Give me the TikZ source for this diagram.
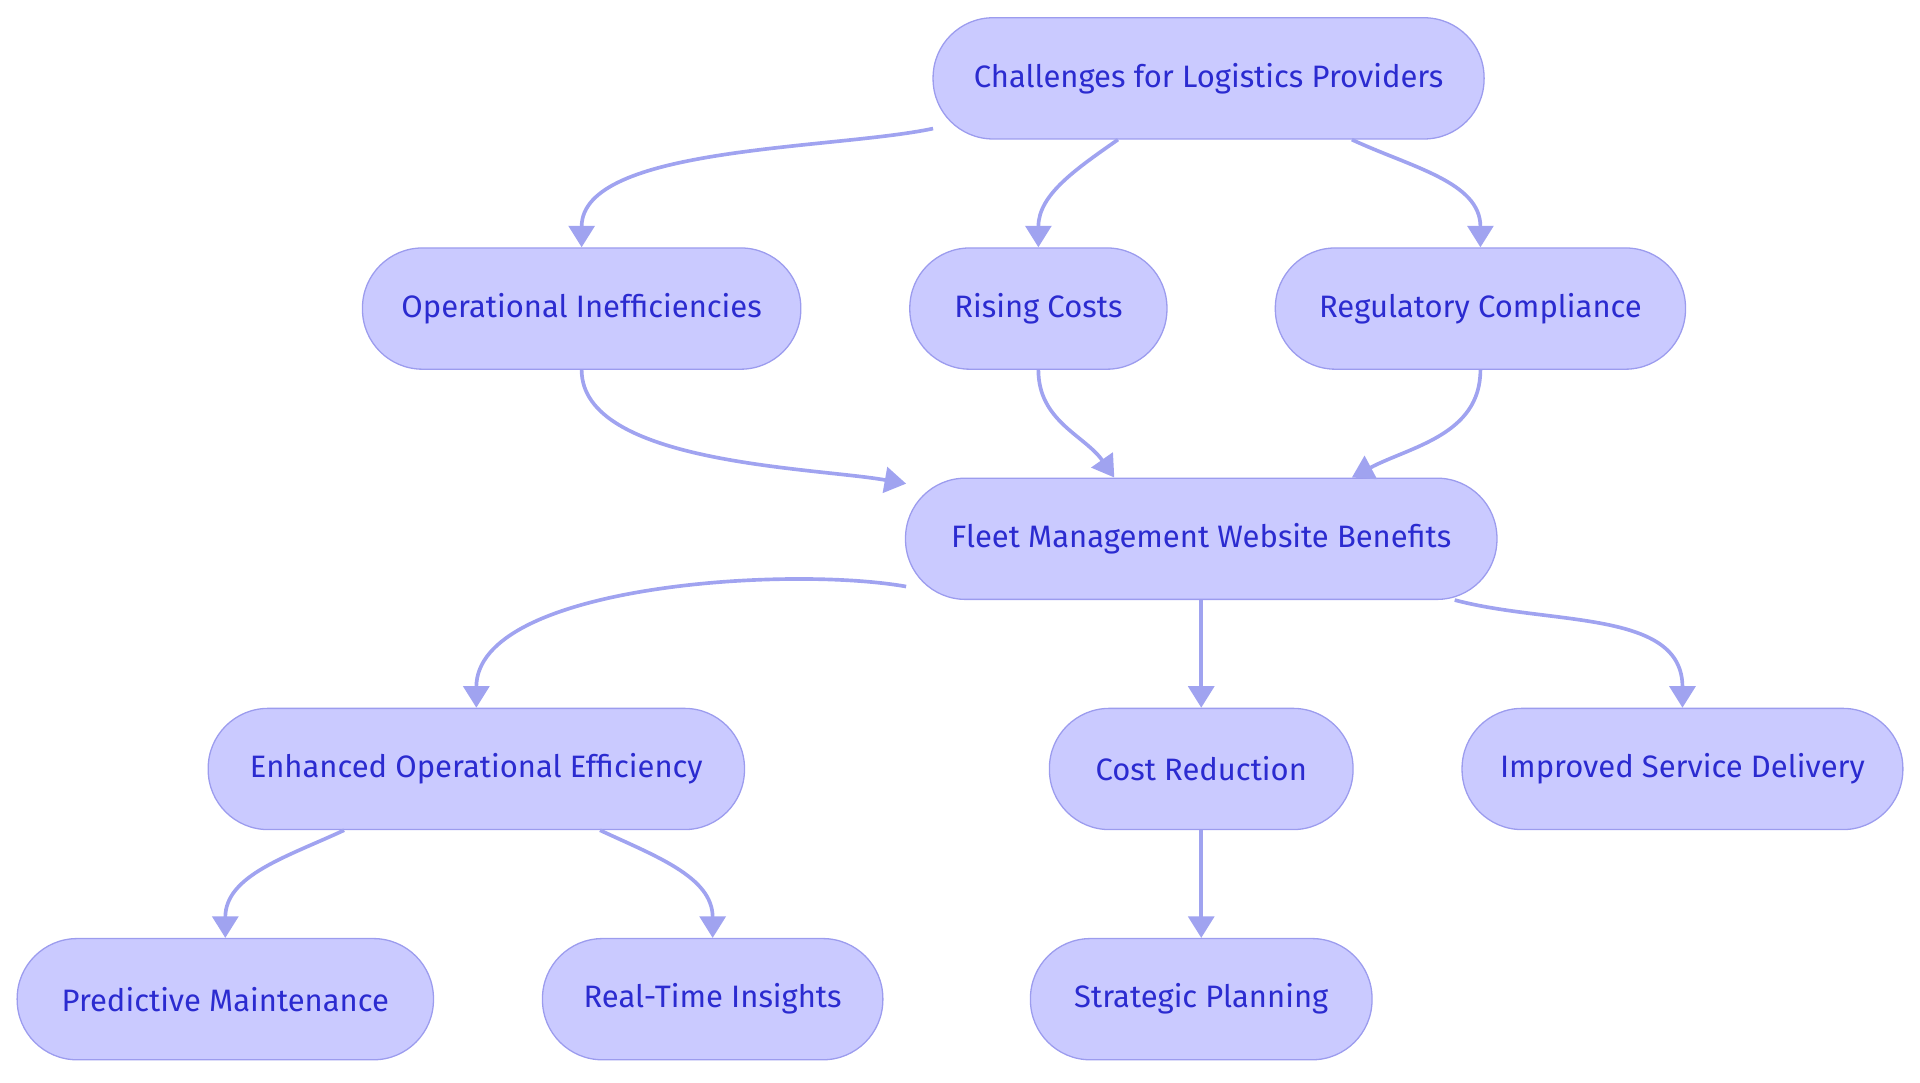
\documentclass[tikz,border=0pt]{standalone}
\usepackage{fontspec}
\setmainfont{Fira Sans}
\usetikzlibrary{positioning, arrows.meta}
\definecolor{boxfill}{HTML}{CACAFF}
\definecolor{boxline}{HTML}{9C9CEE}
\definecolor{boxtext}{HTML}{2B2BD0}
\definecolor{linkcol}{HTML}{A0A3F0}
\tikzset{
  box/.style={draw=boxline, fill=boxfill, text=boxtext, rounded corners=0.49cm,
    minimum height=0.99cm, line width=0.3pt, font=\fontsize{7.2}{8}\selectfont, inner sep=0pt},
  link/.style={draw=linkcol, line width=0.85pt, -{Triangle[length=5pt,width=6pt]}}
}
\begin{document}
\begin{tikzpicture}
\useasboundingbox (0,0) rectangle (15.68,-8.84);
% top level
\node[box, minimum width=4.5cm] (ch) at (9.87,-0.64) {Challenges for Logistics Providers};
\node[box, minimum width=3.58cm] (op) at (4.75,-2.52) {Operational Inefficiencies};
\node[box, minimum width=2.1cm] (rc) at (8.48,-2.52) {Rising Costs};
\node[box, minimum width=3.35cm] (rg) at (12.09,-2.52) {Regulatory Compliance};
% middle
\node[box, minimum width=4.83cm] (fl) at (9.81,-4.40) {Fleet Management Website Benefits};
\node[box, minimum width=4.38cm] (en) at (3.89,-6.28) {Enhanced Operational Efficiency};
\node[box, minimum width=2.48cm] (cr) at (9.81,-6.28) {Cost Reduction};
\node[box, minimum width=3.6cm] (im) at (13.74,-6.28) {Improved Service Delivery};
% bottom
\node[box, minimum width=3.4cm] (pm) at (1.84,-8.16) {Predictive Maintenance};
\node[box, minimum width=2.78cm] (rt) at (5.82,-8.16) {Real-Time Insights};
\node[box, minimum width=2.79cm] (sp) at (9.81,-8.16) {Strategic Planning};

\draw[link] ([xshift=-2.25cm,yshift=-0.41cm]ch.center) to[out=192,in=90,looseness=0.7] (op.north);
\draw[link] ([xshift=-0.74cm]ch.south) to[out=-145,in=90] (rc.north);
\draw[link] ([xshift=1.17cm]ch.south) to[out=-25,in=90] (rg.north);
\draw[link] (op.south) to[out=-90,in=170,looseness=0.7] ([xshift=-2.41cm,yshift=0.45cm]fl.center);
\draw[link] (rc.south) to[out=-90,in=125] ([xshift=-0.71cm]fl.north);
\draw[link] (rg.south) to[out=-90,in=28] ([xshift=1.23cm]fl.north);
\draw[link] ([xshift=-2.41cm,yshift=-0.39cm]fl.center) to[out=170,in=90,looseness=0.7] (en.north);
\draw[link] (fl.south) -- (cr.north);
\draw[link] ([xshift=2.07cm]fl.south) to[out=-15,in=90] (im.north);
\draw[link] ([xshift=-1.08cm]en.south) to[out=-155,in=90] (pm.north);
\draw[link] ([xshift=1.01cm]en.south) to[out=-25,in=90] (rt.north);
\draw[link] (cr.south) -- (sp.north);
\end{tikzpicture}
\end{document}
